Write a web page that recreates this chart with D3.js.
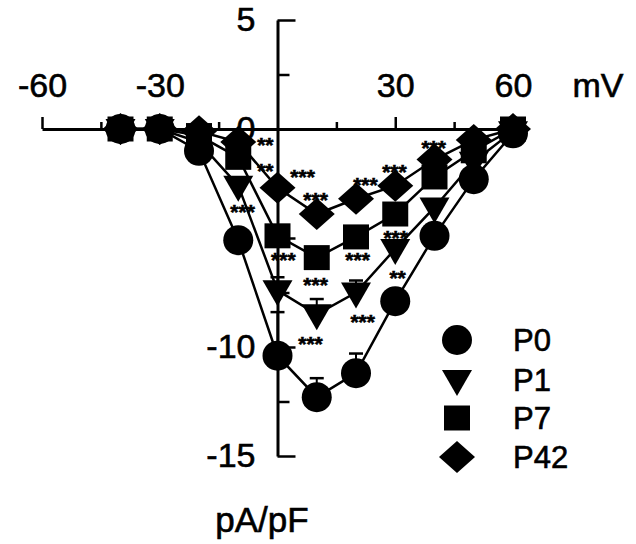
<!DOCTYPE html>
<html>
<head>
<meta charset="utf-8">
<script src="https://cdn.jsdelivr.net/npm/d3@7"></script>
<style>
  body { margin: 0; background: #fff; }
  svg { display: block; font-family: "Liberation Sans", Arial, sans-serif; }
  svg text { stroke: #000; stroke-width: 0.6px; }
</style>
</head>
<body>
<div id="chart"></div>
<script>
// membrane voltage (mV)
var voltages = [-40, -30, -20, -10, 0, 10, 20, 30, 40, 50, 60];

// current density (pA/pF) per age group
var p0  = [0, 0, -1.0, -5.1, -10.4, -12.3, -11.2, -7.9, -4.9, -2.3, -0.2];
var p1  = [0, 0, -0.6, -2.6, -7.4, -8.5, -7.5, -5.5, -3.6, -1.5, -0.1];
var p7  = [0, 0, -0.3, -1.3, -4.9, -5.9, -4.95, -3.9, -2.2, -1.0, 0];
var p42 = [0, 0, -0.1, -0.6, -2.7, -3.9, -3.2, -2.6, -1.4, -0.5, 0];

// SEM (drawn toward zero)
var p0Err  = [0, 0, 0.2, 0.4, 2.0, 0.87, 0.9, 0.5, 0.4, 0.2, 0.1];
var p1Err  = [0, 0, 0.2, 0.3, 0.6, 0.7, 0.55, 0.4, 0.3, 0.2, 0.1];
var p7Err  = [0, 0, 0.1, 0.3, 0.4, 0.4, 0.4, 0.3, 0.2, 0.1, 0];
var p42Err = [0, 0, 0.1, 0.2, 0.3, 0.3, 0.3, 0.3, 0.2, 0.1, 0];

var groupNames = ["P0", "P1", "P7", "P42"];

// axis ticks
var xMajorTicks = [-60, -30, 30, 60];
var xMinorTicks = [-45, -15, 15, 45];
var yMajorTicks = [5, -5, -10, -15];
var yMinorTicks = [2.5, -2.5, -7.5, -12.5];
var yTickLabels = [5, 0, -10, -15];

// significance marks (voltage, current, text)
var sigV    = [-3.1, -3.1, 6.4, 9.7, -8.9, 22.4, 29.8, 39.8, 1.5, 9.7, 20.4, 30.1, 30.6, 8.4, 21.7];
var sigI    = [-0.5, -1.7, -1.97, -3.03, -3.58, -2.34, -1.74, -0.64, -5.78, -6.93, -5.78, -4.77, -6.6, -9.63, -8.62];
var sigText = ["**", "**", "***", "***", "***", "***", "***", "***", "***", "***", "***", "***", "**", "***", "***"];

var series = [
  { name: groupNames[0], values: p0,  err: p0Err,  shape: "circle" },
  { name: groupNames[1], values: p1,  err: p1Err,  shape: "triangle" },
  { name: groupNames[2], values: p7,  err: p7Err,  shape: "square" },
  { name: groupNames[3], values: p42, err: p42Err, shape: "diamond" }
];

var width = 636, height = 544;

var svg = d3.select("#chart")
  .append("svg")
    .attr("width", width)
    .attr("height", height);

var x = d3.scaleLinear()
  .domain([-60, 60])
  .range([42, 513]);

var y = d3.scaleLinear()
  .domain([-15, 5])
  .range([456, 20]);

var plain = function(d) { return String(d); };

// marker shapes
function shapePath(shape) {
  var p = d3.path();
  if (shape == "circle") {
    p.arc(0, 0, 15, 0, 2 * Math.PI);
  } else if (shape == "triangle") {
    p.moveTo(-15, -10); p.lineTo(15, -10); p.lineTo(0, 16); p.closePath();
  } else if (shape == "square") {
    p.rect(-13, -12.5, 26, 25);
  } else {
    p.moveTo(0, -16); p.lineTo(18, 0); p.lineTo(0, 16); p.lineTo(-18, 0); p.closePath();
  }
  return p.toString();
}

// X axis (ticks point up, labels above)
var xAxisG = svg.append("g")
  .attr("transform", "translate(0," + y(0) + ")");
xAxisG.append("g")
  .call(d3.axisTop(x).tickValues(xMinorTicks).tickSize(7).tickSizeOuter(0).tickFormat(""))
  .call(function(g) { g.selectAll("text").remove(); });
xAxisG.append("g")
  .call(d3.axisTop(x).tickValues(xMajorTicks).tickSize(12).tickSizeOuter(0).tickPadding(20).tickFormat(plain))
  .call(function(g) { g.select(".domain").remove(); });
xAxisG.selectAll("path, line")
  .attr("stroke", "#000")
  .attr("stroke-width", 2.5);
xAxisG.select(".domain").attr("stroke-width", 3);
xAxisG.selectAll("text")
  .attr("fill", "#000")
  .style("font-size", "34px");

svg.append("text")
  .attr("x", 598)
  .attr("y", y(0) - 32)
  .attr("text-anchor", "middle")
  .style("font-size", "34px")
  .text("mV");

// Y axis (ticks to the right, labels on the left)
var yAxisG = svg.append("g")
  .attr("transform", "translate(" + x(0) + ",0)");
yAxisG.append("g")
  .call(d3.axisRight(y).tickValues(yMinorTicks).tickSize(12).tickSizeOuter(0).tickFormat(""))
  .call(function(g) { g.selectAll("text").remove(); });
yAxisG.append("g")
  .call(d3.axisRight(y).tickValues(yMajorTicks).tickSize(18).tickSizeOuter(0).tickFormat(""))
  .call(function(g) { g.select(".domain").remove(); g.selectAll("text").remove(); });
yAxisG.append("g")
  .call(d3.axisLeft(y).tickValues(yTickLabels).tickSize(0).tickPadding(22).tickFormat(plain))
  .call(function(g) { g.select(".domain").remove(); });
yAxisG.selectAll("path, line")
  .attr("stroke", "#000")
  .attr("stroke-width", 2.5);
yAxisG.select(".domain").attr("stroke-width", 3);
yAxisG.selectAll("text")
  .attr("fill", "#000")
  .style("font-size", "34px");

svg.append("text")
  .attr("x", 262)
  .attr("y", 532)
  .attr("text-anchor", "middle")
  .style("font-size", "35px")
  .text("pA/pF");

// lines
var line = d3.line()
  .x(function(d, i) { return x(voltages[i]); })
  .y(function(d) { return y(d); });

svg.selectAll(".ivline")
  .data(series)
  .enter()
  .append("path")
    .attr("class", "ivline")
    .attr("d", function(s) { return line(s.values); })
    .attr("fill", "none")
    .attr("stroke", "#000")
    .attr("stroke-width", 2.5);

// error bars
series.forEach(function(s) {
  var g = svg.append("g");
  s.values.forEach(function(v, i) {
    if (!s.err[i]) return;
    var cx = x(voltages[i]), top = y(v + s.err[i]);
    g.append("line")
      .attr("x1", cx).attr("x2", cx)
      .attr("y1", y(v)).attr("y2", top)
      .attr("stroke", "#000").attr("stroke-width", 2);
    g.append("line")
      .attr("x1", cx - 7).attr("x2", cx + 7)
      .attr("y1", top).attr("y2", top)
      .attr("stroke", "#000").attr("stroke-width", 2.5);
  });
});

// markers
series.forEach(function(s) {
  svg.append("g")
    .selectAll("path")
    .data(s.values)
    .enter()
    .append("path")
      .attr("d", shapePath(s.shape))
      .attr("transform", function(d, i) { return "translate(" + x(voltages[i]) + "," + y(d) + ")"; })
      .attr("fill", "#000");
});

// significance stars
svg.append("g")
  .selectAll("text")
  .data(sigText)
  .enter()
  .append("text")
    .attr("x", function(d, i) { return x(sigV[i]); })
    .attr("y", function(d, i) { return y(sigI[i]); })
    .attr("dy", "0.58em")
    .attr("text-anchor", "middle")
    .style("font-size", "21px")
    .style("font-weight", "bold")
    .text(function(d) { return d; });

// legend
var legend = svg.append("g");
series.forEach(function(s, i) {
  var ly = [340, 380, 418, 457][i];
  legend.append("path")
    .attr("d", shapePath(s.shape))
    .attr("transform", "translate(457," + ly + ")")
    .attr("fill", "#000");
  legend.append("text")
    .attr("x", 513)
    .attr("y", ly)
    .attr("dy", "0.36em")
    .style("font-size", "31px")
    .text(s.name);
});
</script>
</body>
</html>
